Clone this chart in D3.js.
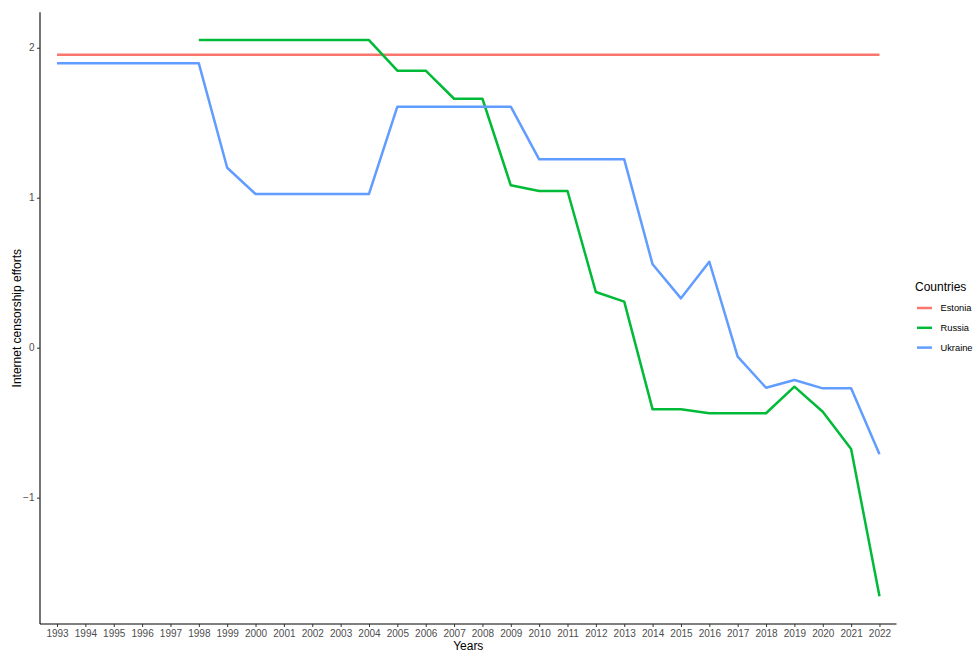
<!DOCTYPE html>
<html>
<head>
<meta charset="utf-8">
<script src="https://cdn.jsdelivr.net/npm/d3@7/dist/d3.min.js"></script>
<style>
  html, body { margin: 0; padding: 0; background: #fff; }
  svg { display: block; font-family: "Liberation Sans", Arial, Helvetica, sans-serif; }
</style>
</head>
<body>
<svg id="chart" width="973" height="653"></svg>
<script>
// Internet censorship efforts by country, 1993–2022
const years = d3.range(1993, 2023).map(String);

const countries = ["Estonia", "Russia", "Ukraine"];
const colors = ["#F8766D", "#00BA38", "#619CFF"];

const estonia = [
  1.953, 1.953, 1.953, 1.953, 1.953, 1.953, 1.953, 1.953, 1.953, 1.953,
  1.953, 1.953, 1.953, 1.953, 1.953, 1.953, 1.953, 1.953, 1.953, 1.953,
  1.953, 1.953, 1.953, 1.953, 1.953, 1.953, 1.953, 1.953, 1.953, 1.953
];
// Russia has no values before 1998
const russia = [
  null, null, null, null, null, 2.051, 2.051, 2.051, 2.051, 2.051,
  2.051, 2.051, 1.847, 1.847, 1.660, 1.660, 1.083, 1.045, 1.045, 0.371,
  0.307, -0.411, -0.411, -0.437, -0.437, -0.437, -0.260, -0.427, -0.675, -1.657
];
const ukraine = [
  1.896, 1.896, 1.896, 1.896, 1.896, 1.896, 1.200, 1.025, 1.025, 1.025,
  1.025, 1.025, 1.607, 1.607, 1.607, 1.607, 1.607, 1.256, 1.256, 1.256,
  1.256, 0.556, 0.329, 0.573, -0.060, -0.267, -0.215, -0.271, -0.271, -0.711
];
const yTicks = [-1, 0, 1, 2];

const seriesValues = [estonia, russia, ukraine];
const series = countries.map((name, i) => ({
  name,
  color: colors[i],
  points: years.map((y, j) => ({ year: y, value: seriesValues[i][j] }))
}));

const svg = d3.select("#chart");
const panel = { left: 40, right: 896.5, top: 12.3, bottom: 624 };

// Discrete year axis with 0.6-step padding at each end
const x = d3.scalePoint()
  .domain(years)
  .range([panel.left, panel.right])
  .padding(0.6);

const allVals = seriesValues.flat().filter(v => v !== null);
const yMin = d3.min(allVals), yMax = d3.max(allVals);
const pad = (yMax - yMin) * 0.05;
const y = d3.scaleLinear()
  .domain([yMin - pad, yMax + pad])
  .range([panel.bottom, panel.top]);

// Lines
const line = d3.line()
  .defined(d => d.value !== null)
  .x(d => x(d.year))
  .y(d => y(d.value));

svg.append("g")
  .selectAll("path")
  .data(series)
  .join("path")
  .attr("d", d => line(d.points))
  .attr("fill", "none")
  .attr("stroke", d => d.color)
  .attr("stroke-width", 2.5)
  .attr("stroke-linejoin", "round");

// Axes
const xAxis = d3.axisBottom(x).tickSize(3).tickPadding(2.5).tickSizeOuter(0);
const yAxis = d3.axisLeft(y).tickValues(yTicks).tickSize(3).tickPadding(2.5)
  .tickSizeOuter(0).tickFormat(d3.format("d"));

const gx = svg.append("g")
  .attr("transform", `translate(0,${panel.bottom})`)
  .call(xAxis);
const gy = svg.append("g")
  .attr("transform", `translate(${panel.left},0)`)
  .call(yAxis);

[gx, gy].forEach(g => {
  g.select(".domain").attr("stroke", "#000").attr("stroke-width", 1.1);
  g.selectAll(".tick line").attr("stroke", "#333").attr("stroke-width", 1);
  g.selectAll(".tick text")
    .attr("fill", "#4D4D4D")
    .style("font-size", "10px");
});
// Axis lines span the whole panel
gx.select(".domain").attr("d", `M${panel.left},0H${panel.right}`);
gy.select(".domain").attr("d", `M0,${panel.top}V${panel.bottom}`);

// Axis titles
svg.append("text")
  .attr("x", (panel.left + panel.right) / 2)
  .attr("y", 649.5)
  .attr("text-anchor", "middle")
  .attr("fill", "#000")
  .style("font-size", "12px")
  .text("Years");

svg.append("text")
  .attr("transform", `translate(21,${(panel.top + panel.bottom) / 2}) rotate(-90)`)
  .attr("text-anchor", "middle")
  .attr("fill", "#000")
  .style("font-size", "12px")
  .text("Internet censorship efforts");

// Legend
const legend = svg.append("g").attr("transform", "translate(915,0)");
legend.append("text")
  .attr("x", 0)
  .attr("y", 291)
  .attr("fill", "#000")
  .style("font-size", "12px")
  .text("Countries");

const items = legend.selectAll("g.item")
  .data(series)
  .join("g")
  .attr("class", "item")
  .attr("transform", (d, i) => `translate(0,${308 + i * 19.8})`);
items.append("line")
  .attr("x1", 2).attr("x2", 17)
  .attr("y1", 0).attr("y2", 0)
  .attr("stroke", d => d.color)
  .attr("stroke-width", 2.5);
items.append("text")
  .attr("x", 25.5)
  .attr("y", 3.4)
  .attr("fill", "#000")
  .style("font-size", "9.3px")
  .text(d => d.name);
</script>
</body>
</html>
